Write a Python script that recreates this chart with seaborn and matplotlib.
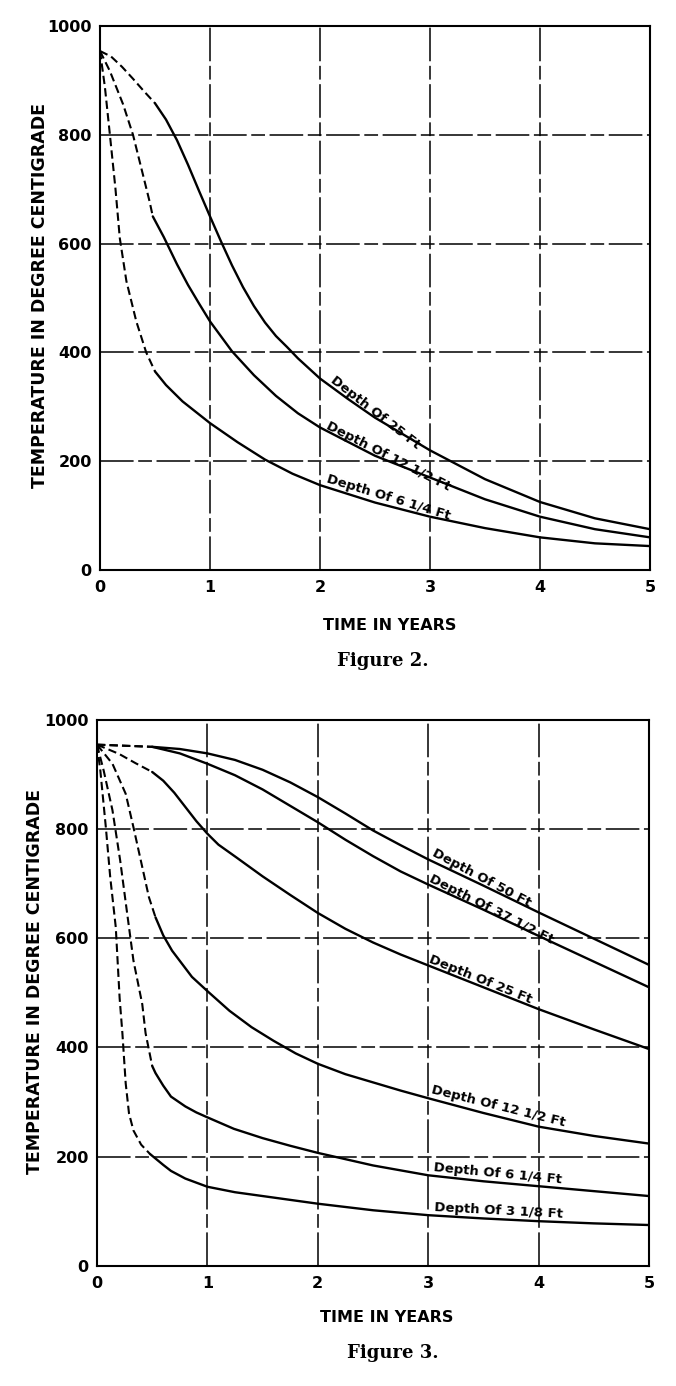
import numpy as np
import pandas as pd
import matplotlib
matplotlib.use('Agg')
import matplotlib.pyplot as plt
import seaborn as sns

# ====== DATA

time_ticks = [0, 1, 2, 3, 4, 5]
temp_ticks = [0, 200, 400, 600, 800, 1000]

# --- Figure 2
f2_labels = ['Depth Of 25 Ft', 'Depth Of 12 1/2 Ft', 'Depth Of 6 1/4 Ft']

f2_x_25 = [0, 0.1, 0.2, 0.3, 0.4, 0.5, 0.6, 0.7, 0.8, 0.9, 1.0, 1.1, 1.2, 1.3, 1.4, 1.5, 1.6, 1.7, 1.8,
           2.0, 2.25, 2.5, 2.75, 3.0, 3.5, 4.0, 4.5, 5.0]
f2_t_25 = [954, 944, 925, 903, 880, 858, 828, 790, 745, 697, 650, 604, 560, 520, 485, 455, 430, 410, 389,
           352, 315, 280, 250, 220, 167, 125, 95, 75]

f2_x_12 = [0, 0.09, 0.21, 0.30, 0.39, 0.45, 0.48, 0.58, 0.7, 0.8, 0.9, 1.0, 1.2, 1.4, 1.6, 1.8,
           2.0, 2.5, 3.0, 3.5, 4.0, 4.5, 5.0]
f2_t_12 = [954, 917, 856, 800, 727, 678, 650, 612, 562, 524, 490, 457, 402, 358, 320, 288,
           262, 210, 170, 130, 98, 75, 60]

f2_x_6 = [0, 0.045, 0.09, 0.14, 0.18, 0.24, 0.33, 0.42, 0.5, 0.6, 0.75, 1.0, 1.25, 1.5, 1.75,
          2.0, 2.5, 3.0, 3.5, 4.0, 4.5, 5.0]
f2_t_6 = [954, 887, 800, 702, 610, 531, 457, 400, 365, 340, 310, 270, 235, 203, 177,
          156, 124, 98, 77, 60, 49, 44]

f2_dash_end = [0.5, 0.48, 0.5]

# --- Figure 3
f3_labels = ['Depth Of 50 Ft', 'Depth Of 37 1/2 Ft', 'Depth Of 25 Ft',
             'Depth Of 12 1/2 Ft', 'Depth Of 6 1/4 Ft', 'Depth Of 3 1/8 Ft']

f3_x_50 = [0, 0.25, 0.5, 0.75, 1.0, 1.25, 1.5, 1.75, 2.0, 2.25, 2.5, 2.75, 3.0, 3.5, 4.0, 4.5, 5.0]
f3_t_50 = [954, 952, 950, 946, 938, 926, 908, 885, 858, 828, 797, 770, 744, 696, 647, 599, 551]

f3_x_37 = [0, 0.25, 0.5, 0.75, 1.0, 1.25, 1.5, 1.75, 2.0, 2.25, 2.5, 2.75, 3.0, 3.5, 4.0, 4.5, 5.0]
f3_t_37 = [954, 952, 950, 938, 919, 898, 872, 842, 812, 780, 750, 722, 698, 652, 604, 557, 510]

f3_x_25 = [0, 0.2, 0.35, 0.5, 0.6, 0.7, 0.8, 0.9, 1.0, 1.1, 1.26, 1.5, 1.75, 2.0, 2.25, 2.5, 2.75,
           3.0, 3.5, 4.0, 4.5, 5.0]
f3_t_25 = [954, 937, 920, 904, 888, 866, 840, 814, 791, 771, 748, 713, 679, 646, 617, 592, 570,
           550, 510, 470, 433, 397]

f3_x_12 = [0, 0.14, 0.26, 0.33, 0.41, 0.47, 0.53, 0.6, 0.68, 0.86, 1.0, 1.2, 1.4, 1.6, 1.8,
           2.0, 2.25, 2.5, 2.75, 3.0, 3.5, 4.0, 4.5, 5.0]
f3_t_12 = [954, 919, 864, 803, 730, 675, 638, 605, 577, 529, 503, 467, 437, 412, 389,
           370, 351, 336, 321, 307, 280, 255, 238, 224]

f3_x_6 = [0, 0.06, 0.14, 0.21, 0.27, 0.33, 0.41, 0.44, 0.47, 0.5, 0.53, 0.6, 0.67, 0.8, 0.9, 1.0,
          1.24, 1.5, 1.75, 2.0, 2.5, 3.0, 3.5, 4.0, 4.5, 5.0]
f3_t_6 = [954, 907, 834, 742, 650, 559, 479, 426, 396, 366, 353, 330, 310, 292, 281, 272,
          251, 234, 220, 207, 184, 166, 155, 146, 137, 128]

f3_x_3 = [0, 0.03, 0.08, 0.12, 0.17, 0.205, 0.23, 0.26, 0.29, 0.33, 0.4, 0.48, 0.6, 0.67, 0.8, 1.0,
          1.25, 1.5, 1.75, 2.0, 2.5, 3.0, 3.5, 4.0, 4.5, 5.0]
f3_t_3 = [954, 907, 803, 711, 620, 490, 426, 334, 279, 248, 222, 205, 185, 174, 160, 145,
          135, 128, 121, 114, 102, 93, 87, 82, 78, 75]

f3_dash_end = [0.5, 0.5, 0.5, 0.53, 0.5, 0.48]

# ====== STYLE

sns.set_style('white')
plt.rcParams['font.family'] = ['DejaVu Sans']
plt.rcParams['font.weight'] = 'bold'
plt.rcParams['text.color'] = 'black'
plt.rcParams['xtick.color'] = 'black'
plt.rcParams['ytick.color'] = 'black'

W, H = 676, 1386
fig = plt.figure(figsize=(W / 100, H / 100), dpi=100)
fig.patch.set_facecolor('white')

ax2 = fig.add_axes([100 / W, 1 - 570 / H, 550 / W, 544 / H])
ax3 = fig.add_axes([97 / W, 1 - 1266 / H, 552 / W, 546.5 / H])


def draw_panel(ax, curves, dash_ends):
    for (x, t), x_end in zip(curves, dash_ends):
        df = pd.DataFrame({'time': x, 'temp': t})
        dashed = df[df['time'] <= x_end]
        solid = df[df['time'] >= x_end]
        sns.lineplot(data=dashed, x='time', y='temp', ax=ax, color='black', lw=1.5,
                     linestyle=(0, (4, 2)), sort=False, estimator=None)
        sns.lineplot(data=solid, x='time', y='temp', ax=ax, color='black', lw=1.7,
                     sort=False, estimator=None)

    ax.set_xlim(0, 5)
    ax.set_ylim(0, 1000)
    ax.set_xticks(time_ticks)
    ax.set_yticks(temp_ticks)
    ax.set_xticklabels([str(v) for v in time_ticks], fontsize=11.5, fontweight='bold')
    ax.set_yticklabels([str(v) for v in temp_ticks], fontsize=11.5, fontweight='bold')
    ax.set_xlabel('')
    ax.set_ylabel('')
    ax.grid(True, color='black', lw=1.1, linestyle=(0, (22, 3, 9, 3)))
    ax.tick_params(axis='y', direction='out', length=5, width=1.2, pad=1, colors='black')
    ax.tick_params(axis='x', length=0, pad=7, colors='black')
    for sp in ax.spines.values():
        sp.set_visible(True)
        sp.set_color('black')
        sp.set_linewidth(1.5)


draw_panel(ax2, [(f2_x_25, f2_t_25), (f2_x_12, f2_t_12), (f2_x_6, f2_t_6)], f2_dash_end)
draw_panel(ax3, [(f3_x_50, f3_t_50), (f3_x_37, f3_t_37), (f3_x_25, f3_t_25),
                 (f3_x_12, f3_t_12), (f3_x_6, f3_t_6), (f3_x_3, f3_t_3)], f3_dash_end)

# curve labels: (x, y, rotation)
f2_label_pos = [(2.09, 347, -38), (2.05, 261, -27), (2.05, 162, -17)]
f3_label_pos = [(3.03, 752, -28), (3.0, 704, -27), (3.0, 556, -22),
                (3.02, 316, -14), (3.05, 174, -5.5), (3.05, 100, -3)]

for ax, labels, pos in [(ax2, f2_labels, f2_label_pos), (ax3, f3_labels, f3_label_pos)]:
    for s, (lx, ly, rot) in zip(labels, pos):
        ax.text(lx, ly, s, rotation=rot, rotation_mode='anchor', ha='left', va='baseline',
                fontsize=9.5, fontweight='bold', color='black')

# axis titles and captions
ylab = 'TEMPERATURE IN DEGREE CENTIGRADE'
fig.text(40 / W, 1 - 295 / H, ylab, rotation=90, ha='center', va='center',
         fontsize=12.5, fontweight='bold')
fig.text(35 / W, 1 - 982 / H, ylab, rotation=90, ha='center', va='center',
         fontsize=12.5, fontweight='bold')
fig.text(390 / W, 1 - 626 / H, 'TIME IN YEARS', ha='center', va='center',
         fontsize=11.5, fontweight='bold')
fig.text(387 / W, 1 - 1318 / H, 'TIME IN YEARS', ha='center', va='center',
         fontsize=11.5, fontweight='bold')
fig.text(383 / W, 1 - 661 / H, 'Figure 2.', ha='center', va='center',
         fontsize=13, fontweight='bold', family='DejaVu Serif')
fig.text(393 / W, 1 - 1353 / H, 'Figure 3.', ha='center', va='center',
         fontsize=13, fontweight='bold', family='DejaVu Serif')

fig.savefig('out.png', dpi=100, facecolor='white')
plt.close(fig)
